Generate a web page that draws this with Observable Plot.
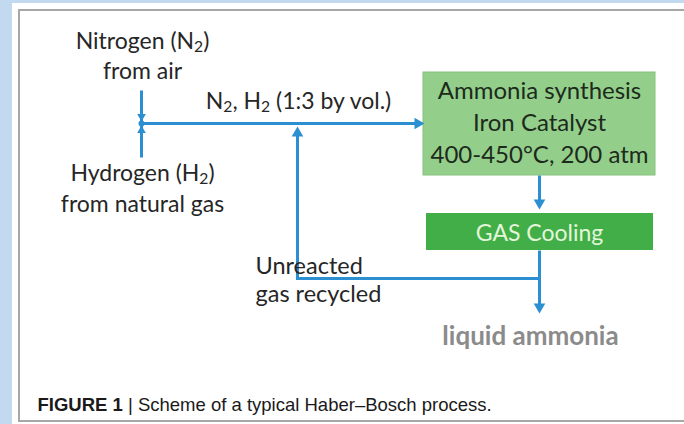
<!DOCTYPE html>
<html>
<head>
<meta charset="utf-8">
<script src="https://cdn.jsdelivr.net/npm/d3@7"></script>
<script src="https://cdn.jsdelivr.net/npm/@observablehq/plot@0.6"></script>
<style>
  html, body { margin: 0; padding: 0; background: #ffffff; }
  #chart svg { display: block; }
</style>
</head>
<body>
<div id="chart"></div>
<script>
// ---- data (diagram layout in pixel space of a 684x424 canvas) ----
const sideBands = [
  {x1: 0, x2: 12, y1: 0, y2: 424},
  {x1: 0, x2: 684, y1: 0, y2: 3}
];
const framePanel = [{x1: 19, x2: 700, y1: 10, y2: 421}];
const synthesisBox = [{x1: 423, x2: 655, y1: 72, y2: 175}];
const coolingBox = [{x1: 426, x2: 653, y1: 213, y2: 250}];
const flowSegments = [
  {x1: 141, y1: 90,  x2: 141, y2: 157},
  {x1: 141, y1: 123, x2: 418, y2: 123},
  {x1: 539, y1: 175, x2: 539, y2: 203},
  {x1: 539, y1: 250, x2: 539, y2: 307},
  {x1: 540.5, y1: 278, x2: 295.5, y2: 278},
  {x1: 297, y1: 279, x2: 297, y2: 133}
];
const bigHeads = [
  {x: 424, y: 123, dir: 90},
  {x: 297, y: 126, dir: 0},
  {x: 539, y: 209, dir: 180},
  {x: 539, y: 313, dir: 180}
];
const smallHeads = [
  {x: 141, y: 121, dir: 180},
  {x: 141, y: 125, dir: 0}
];
const junction = [{x: 141, y: 123}];
const synthesisLines = [
  {text: "Ammonia synthesis", x: 539, y: 98},
  {text: "Iron Catalyst", x: 539, y: 130},
  {text: "400-450°C, 200 atm", x: 539, y: 162}
];
const coolingLines = [{text: "GAS Cooling", x: 539, y: 240}];
const centeredLabels = [
  {text: "Nitrogen (N₂)", x: 142, y: 48},
  {text: "from air", x: 142, y: 78},
  {text: "N₂, H₂ (1:3 by vol.)", x: 298, y: 108},
  {text: "Hydrogen (H₂)", x: 142, y: 180},
  {text: "from natural gas", x: 142, y: 211}
];
const leftLabels = [
  {text: "Unreacted", x: 255, y: 273},
  {text: "gas recycled", x: 255, y: 301}
];
const productLabel = [{text: "liquid ammonia", x: 530, y: 344}];
const captionLines = [{text: "FIGURE 1 | Scheme of a typical Haber–Bosch process.", x: 37, y: 410}];

// ---- helpers ----
const FONT = "Lato, 'Open Sans', sans-serif";
const BLUE = "#2b8fd2";
// d3 triangle symbol: centroid sits 1.555*r behind the tip
const centroid = (d, r, axis) => {
  const off = 1.555 * r, a = d.dir * Math.PI / 180;
  return axis === "x" ? d.x - off * Math.sin(a) : d.y + off * Math.cos(a);
};

const plot = Plot.plot({
  width: 684,
  height: 424,
  margin: 0,
  x: {domain: [0, 684], range: [0, 684], axis: null},
  y: {domain: [0, 424], range: [0, 424], axis: null},
  style: {background: "#ffffff"},
  marks: [
    Plot.rect(sideBands, {x1: "x1", x2: "x2", y1: "y1", y2: "y2", fill: "#c3d9ef"}),
    Plot.rect(framePanel, {x1: "x1", x2: "x2", y1: "y1", y2: "y2", fill: "#ffffff", stroke: "#a7a7a7", strokeWidth: 2}),
    Plot.rect(synthesisBox, {x1: "x1", x2: "x2", y1: "y1", y2: "y2", fill: "#93cf8b", stroke: "#85c27c", strokeWidth: 1}),
    Plot.rect(coolingBox, {x1: "x1", x2: "x2", y1: "y1", y2: "y2", fill: "#41ae48"}),
    Plot.link(flowSegments, {x1: "x1", y1: "y1", x2: "x2", y2: "y2", stroke: BLUE, strokeWidth: 3}),
    Plot.dot(bigHeads, {x: d => centroid(d, 4.3, "x"), y: d => centroid(d, 4.3, "y"), rotate: "dir", symbol: "triangle", r: 4.3, fill: BLUE}),
    Plot.dot(smallHeads, {x: d => centroid(d, 3.2, "x"), y: d => centroid(d, 3.2, "y"), rotate: "dir", symbol: "triangle", r: 3.2, fill: BLUE}),
    Plot.dot(junction, {x: "x", y: "y", r: 3, fill: BLUE}),
    Plot.text(synthesisLines, {x: "x", y: "y", text: "text", lineAnchor: "bottom", fontSize: 24, fontFamily: FONT, fill: "#1d2a1c"}),
    Plot.text(coolingLines, {x: "x", y: "y", text: "text", lineAnchor: "bottom", fontSize: 23, fontFamily: FONT, fill: "#e3f6da"}),
    Plot.text(centeredLabels, {x: "x", y: "y", text: "text", lineAnchor: "bottom", fontSize: 23, fontFamily: FONT, fill: "#262626"}),
    Plot.text(leftLabels, {x: "x", y: "y", text: "text", lineAnchor: "bottom", textAnchor: "start", fontSize: 23.5, fontFamily: FONT, fill: "#262626"}),
    Plot.text(productLabel, {x: "x", y: "y", text: "text", lineAnchor: "bottom", fontSize: 26, fontWeight: "bold", fontFamily: FONT, fill: "#8b8b8b"}),
    Plot.text(captionLines, {x: "x", y: "y", text: "text", lineAnchor: "bottom", textAnchor: "start", fontSize: 18.5, fontFamily: "'Liberation Sans', Arial, sans-serif", fill: "#1a1a1a"})
  ]
});

// rich text: subscript "₂" and bold figure label
d3.select(plot).selectAll("text").each(function() {
  const el = this;
  const s = el.textContent;
  if (!/₂|FIGURE 1/.test(s)) return;
  const parts = s.split(/(₂|FIGURE 1)/).filter(p => p !== "");
  el.textContent = "";
  let shifted = false;
  for (const p of parts) {
    const t = document.createElementNS("http://www.w3.org/2000/svg", "tspan");
    if (p === "₂") {
      t.textContent = "2";
      t.setAttribute("font-size", "0.68em");
      t.setAttribute("dy", "0.25em");
      shifted = true;
    } else {
      t.textContent = p;
      if (shifted) { t.setAttribute("dy", "-0.17em"); shifted = false; }
      if (p === "FIGURE 1") t.setAttribute("font-weight", "bold");
    }
    el.appendChild(t);
  }
});

document.getElementById("chart").appendChild(plot);
</script>
</body>
</html>
